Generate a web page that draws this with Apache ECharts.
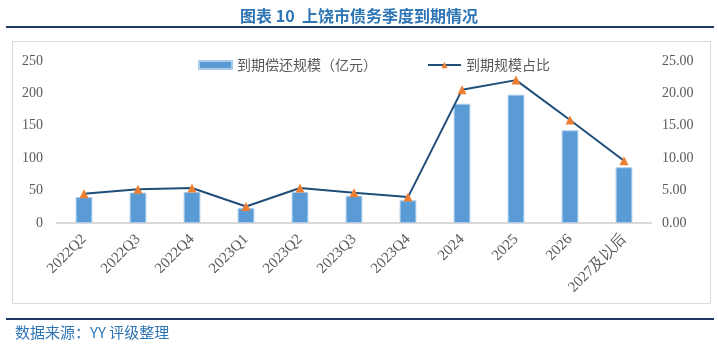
<!DOCTYPE html>
<html>
<head>
<meta charset="utf-8">
<script src="https://cdn.jsdelivr.net/npm/echarts@6/dist/echarts.min.js"></script>
<style>
  html, body { margin: 0; padding: 0; background: #fff; }
  #main { width: 718px; height: 351px; }
</style>
</head>
<body>
<div id="main"></div>
<script>
var categories = ['2022Q2', '2022Q3', '2022Q4', '2023Q1', '2023Q2', '2023Q3', '2023Q4', '2024', '2025', '2026', '2027及以后'];
// 到期偿还规模（亿元）
var amounts = [40, 47, 48, 23, 48, 42, 35, 184, 198, 143, 86];
// 到期规模占比
var ratios = [4.5, 5.2, 5.4, 2.55, 5.4, 4.65, 4.0, 20.55, 22.05, 15.9, 9.6];
var leftTicks = [0, 250, 50];
var rightTicks = [0, 25, 5];

var myChart = echarts.init(document.getElementById('main'));
var labelColor = '#595959';
var serif = '"Liberation Serif", "Times New Roman", serif';

var option = {
    backgroundColor: '#fff',
    animation: false,
    title: {
        text: '图表 10  上饶市债务季度到期情况',
        left: 'center',
        top: 3,
        textStyle: {
            fontFamily: '"Noto Sans CJK SC", sans-serif',
            fontSize: 16,
            fontWeight: 'bold',
            color: '#2e75b6'
        }
    },
    graphic: [
        { type: 'line', shape: { x1: 6, y1: 27, x2: 714, y2: 27 }, style: { stroke: '#1f3864', lineWidth: 2 } },
        { type: 'rect', shape: { x: 12.5, y: 41.5, width: 698, height: 262 }, style: { fill: 'none', stroke: '#d9d9d9', lineWidth: 1 } },
        { type: 'line', shape: { x1: 6, y1: 319, x2: 714, y2: 319 }, style: { stroke: '#1f3864', lineWidth: 2 } },
        {
            type: 'text', left: 15, top: 325,
            style: { text: '数据来源：YY 评级整理', fill: '#2e75b6', fontSize: 15, fontFamily: '"Noto Sans CJK SC", sans-serif' }
        }
    ],
    legend: {
        left: 193,
        top: 53,
        itemWidth: 33,
        itemHeight: 8,
        itemGap: 50,
        textStyle: { color: labelColor, fontSize: 14, fontFamily: '"Noto Sans CJK SC", sans-serif' },
        data: [{ name: '到期偿还规模（亿元）', icon: 'rect' }, { name: '到期规模占比' }]
    },
    grid: { left: 57, right: 67, top: 61, bottom: 128, containLabel: false },
    xAxis: {
        type: 'category',
        data: categories,
        boundaryGap: true,
        axisTick: { show: false },
        axisLine: { lineStyle: { color: '#d9d9d9', width: 2 } },
        axisLabel: { rotate: 45, color: labelColor, fontSize: 15, fontFamily: serif, margin: 14, interval: 0 }
    },
    yAxis: [
        {
            type: 'value', min: leftTicks[0], max: leftTicks[1], interval: leftTicks[2],
            axisLine: { show: false }, axisTick: { show: false }, splitLine: { show: false },
            axisLabel: { color: labelColor, fontSize: 14, fontFamily: serif, margin: 14 }
        },
        {
            type: 'value', min: rightTicks[0], max: rightTicks[1], interval: rightTicks[2],
            axisLine: { show: false }, axisTick: { show: false }, splitLine: { show: false },
            axisLabel: {
                color: labelColor, fontSize: 14, fontFamily: serif, margin: 11,
                formatter: function(v) { return v.toFixed(2); }
            }
        }
    ],
    series: [
        {
            name: '到期偿还规模（亿元）',
            type: 'bar',
            data: amounts,
            barWidth: '31%',
            itemStyle: { color: '#5b9bd5', borderColor: '#a9cbea', borderWidth: 1 }
        },
        {
            name: '到期规模占比',
            type: 'line',
            yAxisIndex: 1,
            data: ratios,
            symbol: 'triangle',
            symbolSize: 9,
            lineStyle: { color: '#1f4e79', width: 2 },
            itemStyle: { color: '#ed7d31', borderWidth: 0 }
        }
    ]
};

myChart.setOption(option);
</script>
</body>
</html>
